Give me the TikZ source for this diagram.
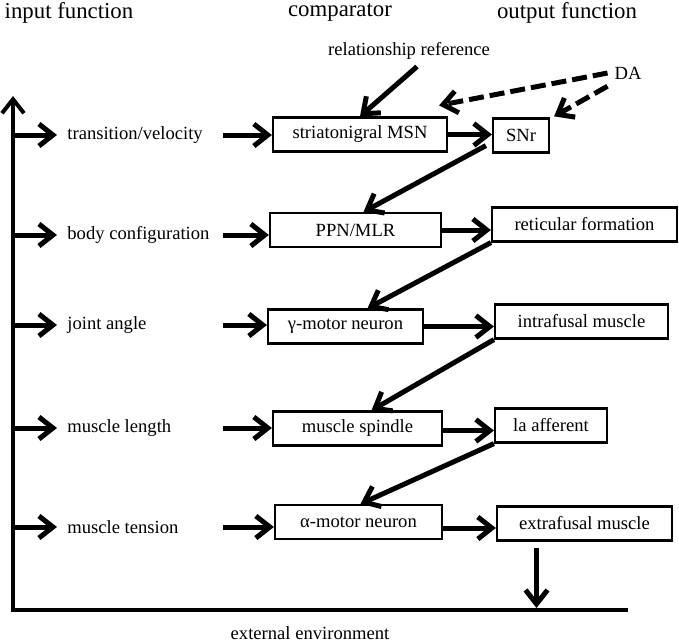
\documentclass[tikz,border=0pt]{standalone}
\usepackage{fontspec}
\setmainfont{Liberation Serif}
\usetikzlibrary{arrows.meta,positioning}

\begin{document}
\begin{tikzpicture}[
            x=0.5pt, y=-0.5pt,
            every node/.style={font=\rmfamily\fontsize{9.3}{11}\selectfont},
            head/.style={font=\rmfamily\fontsize{11.4}{13}\selectfont},
            lbl/.style={anchor=west,inner sep=0pt},
            box/.style={draw,line width=1.1pt,minimum height=17pt,inner sep=0pt},
            arr/.style={line width=2.5pt,line join=round,-{Straight Barb[length=7pt,width=11pt]}},
            dasharr/.style={arr,dash pattern=on 7.5pt off 3pt},
        ]
        \useasboundingbox (0,0) rectangle (679,643);

        % Draw headings %
        \node[head] (hin) at (69,13) {input function};
        \node[head] (hcmp) at (340,13) {comparator};
        \node[head] (hout) at (567,13) {output function};
        \node (rel) at (409,51) {relationship reference};
        \node (da) at (628,73) {DA};

        % Draw input function %
        \node[lbl] (l1) at (67,135) {transition/velocity};
        \node[lbl] (l2) at (67,235) {body configuration};
        \node[lbl] (l3) at (67,325) {joint angle};
        \node[lbl] (l4) at (67,428) {muscle length};
        \node[lbl] (l5) at (67,527) {muscle tension};

        % Draw comparator %
        \node[box,minimum width=87pt] (c1) at (360,134.5) {striatonigral MSN};
        \node[box,minimum width=85.5pt] (c2) at (355.5,230) {PPN/MLR};
        \node[box,minimum width=77.5pt] (c3) at (345.5,326.5) {γ-motor neuron};
        \node[box,minimum width=84.5pt] (c4) at (357.5,428.5) {muscle spindle};
        \node[box,minimum width=83.5pt] (c5) at (358.5,522) {α-motor neuron};

        % Draw output function %
        \node[box,minimum width=28pt] (o1) at (521,135.5) {SNr};
        \node[box,minimum width=92.5pt] (o2) at (584.5,224.5) {reticular formation};
        \node[box,minimum width=86.5pt] (o3) at (581.5,321.5) {intrafusal muscle};
        \node[box,minimum width=56pt] (o4) at (551,425.5) {la afferent};
        \node[box,minimum width=87.5pt] (o5) at (584.5,523.5) {extrafusal muscle};

        % Draw environment %
        \coordinate (top) at (13,96);
        \coordinate (origin) at (13,610);
        \coordinate (floor) at (628,610);
        \coordinate (mid) at (223,0);
        \node (env) at (310,633) {external environment};
        \draw[arr,line width=2pt,line join=miter] (floor) -- (origin) -- (top);

        % Draw arrows %
        \draw[arr] (origin |- l1) -- ([xshift=-5pt]l1.west);
        \draw[arr] (origin |- l2) -- ([xshift=-5pt]l2.west);
        \draw[arr] (origin |- l3) -- ([xshift=-5pt]l3.west);
        \draw[arr] (origin |- l4) -- ([xshift=-5pt]l4.west);
        \draw[arr] (origin |- l5) -- ([xshift=-5pt]l5.west);

        \draw[arr] (mid |- l1) -- (l1 -| c1.west);
        \draw[arr] (mid |- l2) -- (l2 -| c2.west);
        \draw[arr] (mid |- l3) -- (l3 -| c3.west);
        \draw[arr] (mid |- l4) -- (l4 -| c4.west);
        \draw[arr] (mid |- l5) -- (l5 -| c5.west);

        \draw[arr] (c1.east) -- (c1.east -| o1.west);
        \draw[arr] (c2.east) -- (c2.east -| o2.west);
        \draw[arr] (c3.east) -- (c3.east -| o3.west);
        \draw[arr] ([yshift=-1pt]c4.east) -- ([yshift=-1pt]c4.east -| o4.west);
        \draw[arr] ([yshift=-3pt]c5.east) -- ([yshift=-3pt]c5.east -| o5.west);

        \draw[arr] ([shift={(-3pt,4pt)}]o1.south west) -- ([xshift=4pt]c2.north);
        \draw[arr] (o2.south west) -- ([xshift=11pt]c3.north);
        \draw[arr] (o3.south west) -- ([xshift=7pt]c4.north);
        \draw[arr] (o4.south west) -- ([xshift=1pt]c5.north);

        \draw[arr] ([xshift=4pt]rel.south) -- (c1.north);
        \draw[dasharr] (da.west) -- ([shift={(-4.5pt,5.5pt)}]c1.north east);
        \draw[dasharr] (da.south west) -- ([shift={(2pt,0.5pt)}]o1.north east);

        \draw[arr] ([xshift=-24pt,yshift=-3pt]o5.south) -- ([xshift=-24pt,yshift=1pt]o5.south |- floor);
\end{tikzpicture}
\end{document}
